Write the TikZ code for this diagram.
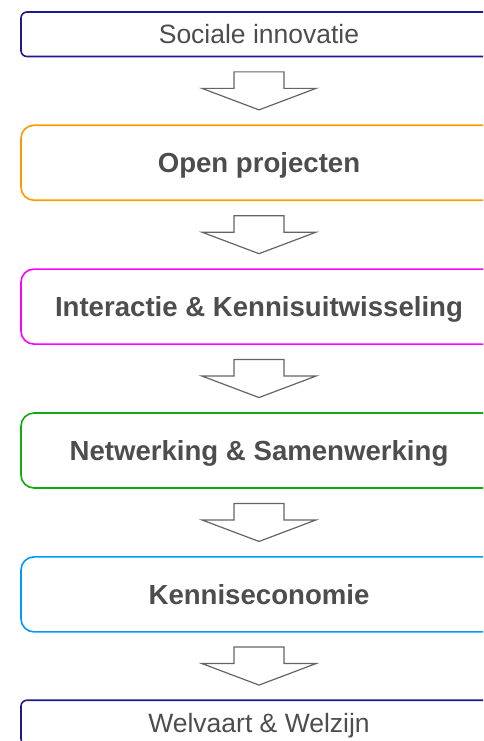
\documentclass[tikz,border=0pt]{standalone}
\usepackage{fontspec}
\setmainfont{Liberation Sans}
\usetikzlibrary{calc}

\definecolor{navyline}{RGB}{31,26,140}
\definecolor{orangeline}{RGB}{255,153,0}
\definecolor{magentaline}{RGB}{255,0,255}
\definecolor{greenline}{RGB}{17,170,17}
\definecolor{blueline}{RGB}{0,153,255}
\definecolor{textgray}{RGB}{77,77,77}
\definecolor{arrowgray}{RGB}{100,100,100}

\tikzset{
  stagebox/.style={draw, rectangle, line width=1.6pt, minimum width=476pt,
    text=textgray, text height=19pt, text depth=0pt,
    font=\fontsize{26.5}{32}\selectfont},
  endbox/.style={stagebox, rounded corners=6pt, draw=navyline, minimum height=44.5pt},
  midbox/.style={stagebox, rounded corners=13pt, minimum height=75pt,
    text height=19.8pt, font=\fontsize{27.6}{33}\selectfont\bfseries},
  downarrow/.pic={
    \draw[arrowgray, line width=1.2pt, line join=miter]
      (-25pt,19pt) -- (25pt,19pt) -- (25pt,2.5pt) -- (57pt,2.5pt) -- (0pt,-19pt)
      -- (-57pt,2.5pt) -- (-25pt,2.5pt) -- cycle;
  }
}

\begin{document}
\begin{tikzpicture}[x=1pt,y=-1pt]
	\useasboundingbox (0,0) rectangle (483,741);
	\clip (0,0) rectangle (483,741);
	% stages, top to bottom
	\node[endbox] (innovatie) at (259,34.25) {Sociale innovatie};
	\node[midbox, draw=orangeline] (projecten) at (259,162.75) {Open projecten};
	\node[midbox, draw=magentaline] (interactie) at (259,306.6) {Interactie \& Kennisuitwisseling};
	\node[midbox, draw=greenline] (netwerking) at (259,450.5) {Netwerking \& Samenwerking};
	\node[midbox, draw=blueline] (economie) at (259,594.4) {Kenniseconomie};
	\node[endbox] (welvaart) at (259,722.5) {Welvaart \& Welzijn};
	% block arrows between the stages
	\pic at ($(innovatie.south)!0.5!(projecten.north)$) {downarrow};
	\pic at ($(projecten.south)!0.5!(interactie.north)$) {downarrow};
	\pic at ($(interactie.south)!0.5!(netwerking.north)$) {downarrow};
	\pic at ($(netwerking.south)!0.5!(economie.north)$) {downarrow};
	\pic at ($(economie.south)!0.5!(welvaart.north)$) {downarrow};
\end{tikzpicture}
\end{document}
